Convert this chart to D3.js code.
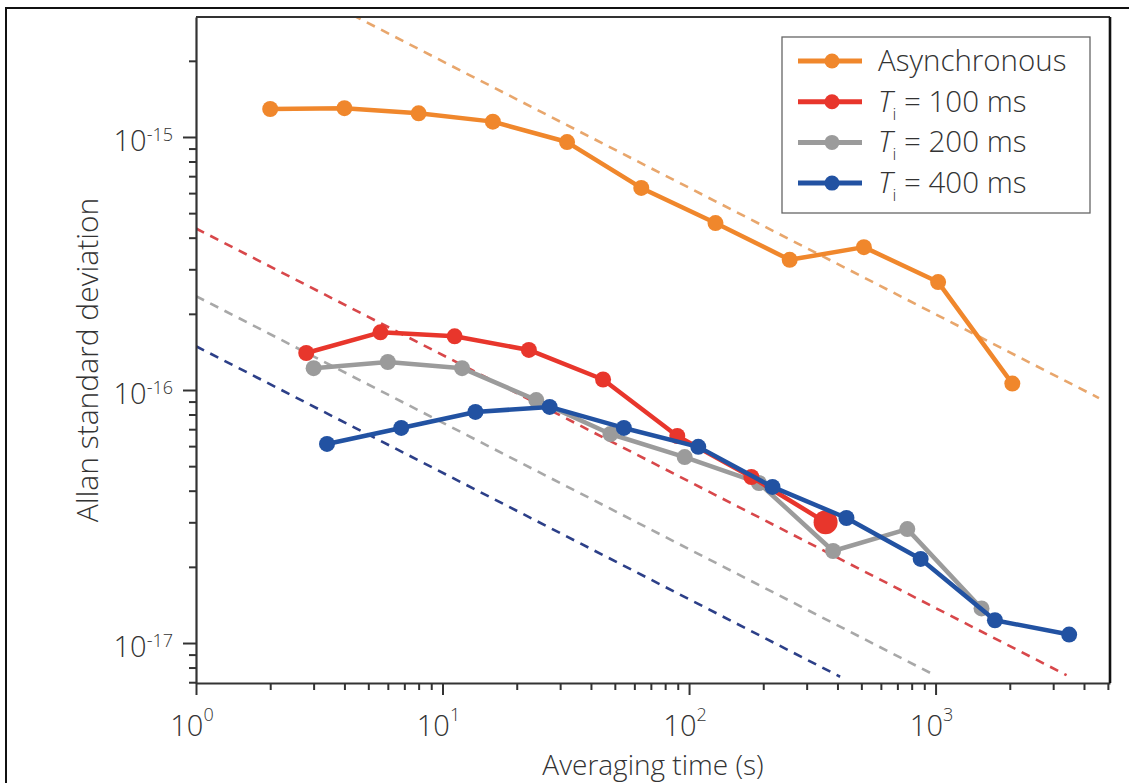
<!DOCTYPE html>
<html>
<head>
<meta charset="utf-8">
<script src="https://cdn.jsdelivr.net/npm/d3@7"></script>
<style>
  html, body { margin: 0; padding: 0; background: #fff; }
  svg { display: block; }
  text { font-family: "Open Sans", "DejaVu Sans", sans-serif; font-weight: 300; fill: #333; }
</style>
</head>
<body>
<svg id="chart" width="1129" height="783"></svg>
<script>
// ---- data ----
const seriesNames = ["Asynchronous", "T100", "T200", "T400"];
const legendLabels = ["Asynchronous", "100 ms", "200 ms", "400 ms"];

const asyncTau   = [2, 4, 8, 16, 32, 64, 128, 256, 512, 1024, 2048];
const asyncSigma = [1.29e-15, 1.30e-15, 1.24e-15, 1.15e-15, 9.55e-16, 6.29e-16, 4.57e-16, 3.27e-16, 3.67e-16, 2.67e-16, 1.06e-16];

const t100Tau    = [2.8, 5.6, 11.2, 22.4, 44.8, 89.6, 179, 358];
const t100Sigma  = [1.40e-16, 1.69e-16, 1.63e-16, 1.44e-16, 1.10e-16, 6.58e-17, 4.53e-17, 3.0e-17];

const t200Tau    = [3, 6, 12, 24, 48, 96, 192, 384, 768, 1536];
const t200Sigma  = [1.22e-16, 1.29e-16, 1.22e-16, 9.12e-17, 6.70e-17, 5.43e-17, 4.29e-17, 2.31e-17, 2.82e-17, 1.37e-17];

const t400Tau    = [3.4, 6.8, 13.6, 27.2, 54.4, 109, 218, 435, 870, 1741, 3482];
const t400Sigma  = [6.12e-17, 7.08e-17, 8.19e-17, 8.57e-17, 7.08e-17, 5.96e-17, 4.14e-17, 3.12e-17, 2.15e-17, 1.23e-17, 1.08e-17];

// white-noise guide lines sigma = c * tau^(-1/2)
const guideCoef   = [6.3e-15, 4.35e-16, 2.35e-16, 1.49e-16];
const guideTauEnd = [4600, 3400, 970, 410];

const xMajorTicks = [1, 10, 100, 1000];
const xMajorExp   = ["0", "1", "2", "3"];
const yMajorTicks = [1e-17, 1e-16, 1e-15];
const yMajorExp   = ["-17", "-16", "-15"];

// ---- styles ----
const lineColors  = ["#F0872C", "#E8362C", "#9B9B9B", "#2252A2"];
const guideColors = ["#E8A66C", "#D8474A", "#A8A8A8", "#2C3F88"];

const svg = d3.select("#chart");
const M = { left: 196, right: 1110, top: 17, bottom: 683 };

const x = d3.scaleLog().domain([1, 5100]).range([M.left, M.right]);
const y = d3.scaleLog().domain([6.95e-18, 2.98e-15]).range([M.bottom, M.top]);

// outer frame (left/top visible)
svg.append("rect").attr("x", 6).attr("y", 8).attr("width", 1140).attr("height", 800)
  .attr("fill", "none").attr("stroke", "#111").attr("stroke-width", 2);

// clip
svg.append("defs").append("clipPath").attr("id", "clip")
  .append("rect").attr("x", M.left).attr("y", M.top)
  .attr("width", M.right - M.left).attr("height", M.bottom - M.top);

// guide dashed lines
const guides = svg.append("g").attr("clip-path", "url(#clip)");
guideCoef.forEach((c, i) => {
  const t0 = 1, t1 = guideTauEnd[i];
  guides.append("line")
    .attr("x1", x(t0)).attr("y1", y(c / Math.sqrt(t0)))
    .attr("x2", x(t1)).attr("y2", y(c / Math.sqrt(t1)))
    .attr("stroke", guideColors[i]).attr("stroke-width", 2.6)
    .attr("stroke-dasharray", "9,7");
});

// axes with minor ticks
function minorTicks(lo, hi) {
  const out = [];
  for (let e = Math.floor(Math.log10(lo)) ; e <= Math.ceil(Math.log10(hi)); e++) {
    for (let m = 1; m <= 9; m++) {
      const v = m * Math.pow(10, e);
      if (v >= lo * 0.999 && v <= hi * 1.001) out.push(v);
    }
  }
  return out;
}
const isMajor = v => Math.abs(Math.log10(v) - Math.round(Math.log10(v))) < 1e-9;

const xTickVals = minorTicks(1, 5000);
const yTickVals = minorTicks(7e-18, 2.5e-15);

const xAxis = svg.append("g").attr("transform", `translate(0,${M.bottom})`)
  .call(d3.axisBottom(x).tickValues(xTickVals).tickFormat("").tickSizeOuter(0));
xAxis.selectAll(".tick line").attr("y2", d => isMajor(d) ? 12 : 7);

const yAxis = svg.append("g").attr("transform", `translate(${M.left},0)`)
  .call(d3.axisLeft(y).tickValues(yTickVals).tickFormat("").tickSizeOuter(0));
yAxis.selectAll(".tick line").attr("x2", d => isMajor(d) ? -13 : -7);

[xAxis, yAxis].forEach(a => {
  a.selectAll(".domain").attr("stroke", "#333").attr("stroke-width", 2.2);
  a.selectAll(".tick line").attr("stroke", "#333").attr("stroke-width", 2);
});

// top & right border
svg.append("line").attr("x1", M.left).attr("x2", M.right).attr("y1", M.top).attr("y2", M.top)
  .attr("stroke", "#333").attr("stroke-width", 2.2);
svg.append("line").attr("x1", M.right).attr("x2", M.right).attr("y1", M.top).attr("y2", M.bottom)
  .attr("stroke", "#111").attr("stroke-width", 2.6);

// tick labels
xMajorTicks.forEach((v, i) => {
  const t = svg.append("text").attr("x", x(v) - 4).attr("y", 736)
    .attr("text-anchor", "middle").attr("font-size", 29);
  t.append("tspan").text("10");
  t.append("tspan").attr("font-size", 18).attr("dy", -15).text(xMajorExp[i]);
});
yMajorTicks.forEach((v, i) => {
  const t = svg.append("text").attr("x", 173).attr("y", y(v) + 14)
    .attr("text-anchor", "end").attr("font-size", 29);
  t.append("tspan").text("10");
  t.append("tspan").attr("font-size", 18).attr("dy", -10).text(yMajorExp[i]);
});

// axis titles
svg.append("text").attr("x", (M.left + M.right) / 2).attr("y", 775)
  .attr("text-anchor", "middle").attr("font-size", 28).text("Averaging time (s)");
svg.append("text").attr("transform", "translate(98,360) rotate(-90)")
  .attr("text-anchor", "middle").attr("font-size", 30).text("Allan standard deviation");

// data series
const allTau = [asyncTau, t100Tau, t200Tau, t400Tau];
const allSigma = [asyncSigma, t100Sigma, t200Sigma, t400Sigma];
const lineGen = d3.line().x(d => x(d[0])).y(d => y(d[1]));
const drawOrder = [0, 2, 1, 3];
drawOrder.forEach(i => {
  const pts = allTau[i].map((t, k) => [t, allSigma[i][k]]);
  const g = svg.append("g").attr("class", "series-" + seriesNames[i]);
  g.append("path").datum(pts).attr("d", lineGen)
    .attr("fill", "none").attr("stroke", lineColors[i]).attr("stroke-width", 4.5)
    .attr("stroke-linejoin", "round");
  g.selectAll("circle").data(pts).join("circle")
    .attr("cx", d => x(d[0])).attr("cy", d => y(d[1]))
    .attr("r", (d, k) => (i === 1 && k === pts.length - 1) ? 12 : 8)
    .attr("fill", lineColors[i]);
});

// legend
const lg = svg.append("g");
lg.append("rect").attr("x", 782).attr("y", 37).attr("width", 308).attr("height", 176)
  .attr("fill", "#fff").attr("stroke", "#666").attr("stroke-width", 1.3);
seriesNames.forEach((n, i) => {
  const cy = 61 + i * 40.7;
  lg.append("line").attr("x1", 798).attr("x2", 862).attr("y1", cy).attr("y2", cy)
    .attr("stroke", lineColors[i]).attr("stroke-width", 5);
  lg.append("circle").attr("cx", 832).attr("cy", cy).attr("r", 7.5).attr("fill", lineColors[i]);
  const t = lg.append("text").attr("x", 878).attr("y", cy + 10).attr("font-size", 29.5);
  if (i === 0) {
    t.text(legendLabels[i]);
  } else {
    t.append("tspan").attr("font-style", "italic").text("T");
    t.append("tspan").attr("font-size", 17).attr("dy", 8).text("i");
    t.append("tspan").attr("dy", -8).text(" = " + legendLabels[i]);
  }
});
</script>
</body>
</html>
